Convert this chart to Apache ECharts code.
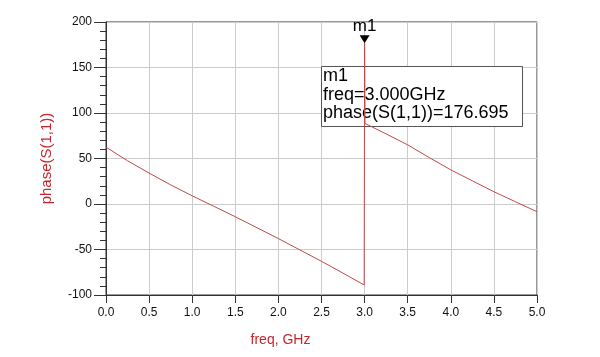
<!DOCTYPE html>
<html>
<head>
<meta charset="utf-8">
<script src="https://cdn.jsdelivr.net/npm/echarts@6/dist/echarts.min.js"></script>
<style>html,body{margin:0;padding:0;background:#fff}#c{width:600px;height:357px}</style>
</head>
<body>
<div id="c"></div>
<script>
// freq (GHz) and phase(S(1,1)) (deg)
var freq  = [0, 0.25, 0.5, 0.75, 1.0, 1.25, 1.5, 1.75, 2.0, 2.25, 2.5, 2.75, 2.995, 3.0, 3.005, 3.25, 3.5, 3.75, 4.0, 4.25, 4.5, 4.75, 5.0];
var phase = [62.5, 47.5, 34, 21, 9, -2.5, -14, -26, -38, -50.5, -63, -76, -89, 176.695, 88.5, 77, 65, 51, 37.5, 25.5, 13.5, 2.5, -8.5];
var xTicks = [0, 0.5, 1, 1.5, 2, 2.5, 3, 3.5, 4, 4.5, 5];
var yTicks = [-100, -50, 0, 50, 100, 150, 200];
var markerName = 'm1';
var markerFreq = 3.0;
var markerPhase = 176.695;
var markerLines = ['m1', 'freq=3.000GHz', 'phase(S(1,1))=176.695'];

var red = '#c8262c';
var chart = echarts.init(document.getElementById('c'));
var data = freq.map(function (f, i) { return [f, phase[i]]; });
var font = 'Arial, "Liberation Sans", sans-serif';

chart.setOption({
  animation: false,
  backgroundColor: '#fff',
  grid: { left: 106, right: 63, top: 22, bottom: 62, show: true, borderColor: '#333', borderWidth: 1 },
  xAxis: {
    type: 'value', min: xTicks[0], max: xTicks[xTicks.length - 1], interval: 0.5,
    name: 'freq, GHz', nameLocation: 'middle', nameGap: 38,
    nameTextStyle: { color: red, fontSize: 14, fontFamily: font, padding: [0, 82, 0, 0] },
    axisLine: { onZero: false, lineStyle: { color: '#333', width: 1 } },
    axisTick: { show: true, length: 8, lineStyle: { color: '#333' } },
    axisLabel: { color: '#111', fontSize: 12, fontFamily: font, margin: 12,
      formatter: function (v) { return v.toFixed(1); } },
    splitLine: { show: true, lineStyle: { color: '#cccccc', width: 1 } }
  },
  yAxis: {
    type: 'value', min: yTicks[0], max: yTicks[yTicks.length - 1], interval: 50,
    name: 'phase(S(1,1))', nameLocation: 'middle', nameGap: 52,
    nameTextStyle: { color: red, fontSize: 15, fontFamily: font },
    axisLine: { show: true, onZero: false, lineStyle: { color: '#333', width: 1 } },
    axisTick: { show: true, length: 12, lineStyle: { color: '#333' } },
    minorTick: { show: true, splitNumber: 5, length: 6, lineStyle: { color: '#333' } },
    axisLabel: { color: '#111', fontSize: 12, fontFamily: font, margin: 14 },
    splitLine: { show: true, lineStyle: { color: '#cccccc', width: 1 } }
  },
  series: [{
    type: 'line', data: data, showSymbol: false, symbol: 'none', zlevel: 1, z: 10,
    lineStyle: { color: '#c04848', width: 1 },
    markPoint: {
      silent: true,
      data: [{
        name: markerName, coord: [markerFreq, markerPhase],
        symbol: 'triangle', symbolRotate: 180, symbolSize: [10, 8], symbolOffset: [0, -4],
        itemStyle: { color: '#000' },
        label: { show: true, position: 'top', distance: 0, formatter: markerName,
          color: '#000', fontSize: 17, fontFamily: font }
      }]
    }
  }]
});

var tl = chart.convertToPixel({ gridIndex: 0 }, [2.5, 150]);
var bx = tl[0], by = tl[1] - 1;
var els = [{
  type: 'rect', shape: { x: bx, y: by, width: 201, height: 60 },
  style: { fill: '#fff', stroke: '#555', lineWidth: 1 }, z: 1
}];
var offs = [10, 28.5, 46.5];
markerLines.forEach(function (t, i) {
  els.push({ type: 'text', x: bx + 1.5, y: by + offs[i], z: 2,
    style: { text: t, fill: '#000', font: '18px ' + font, textVerticalAlign: 'middle', textAlign: 'left' } });
});
chart.setOption({ graphic: { elements: els } });
</script>
</body>
</html>
